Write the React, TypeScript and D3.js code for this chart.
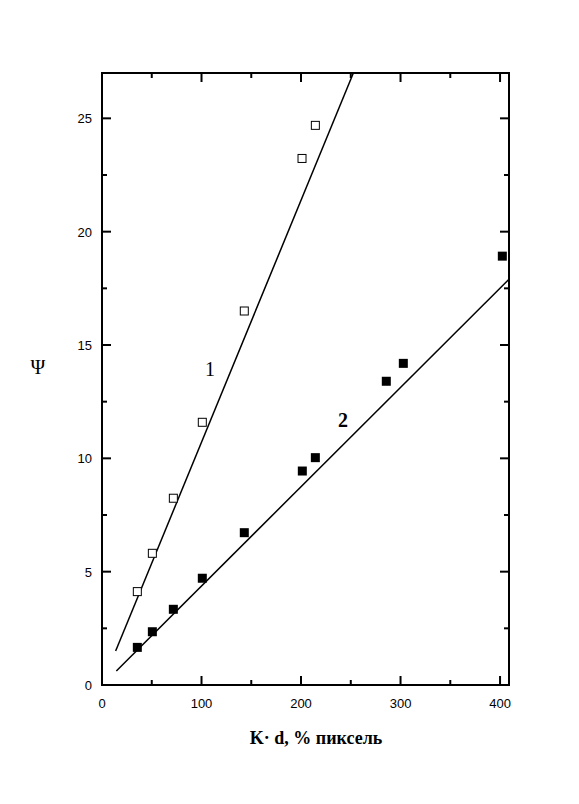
import React from "react";
import * as d3 from "d3";

const series1X = [35.5, 50.6, 71.7, 100.8, 143, 201, 214.4];
const series1Y = [4.12, 5.81, 8.24, 11.59, 16.5, 23.23, 24.69];
const series2X = [35.5, 50.6, 71.7, 100.8, 143, 201.3, 214.4, 285.7, 302.8, 402.3];
const series2Y = [1.66, 2.35, 3.34, 4.71, 6.72, 9.44, 10.03, 13.4, 14.19, 18.92];
const fit1X = [13.7, 252.6];
const fit1Y = [1.5, 27];
const fit2X = [14.4, 409];
const fit2Y = [0.62, 17.9];
const xTicks = [0, 100, 200, 300, 400];
const xMinor = [50, 150, 250, 350];
const yTicks = [0, 5, 10, 15, 20, 25];
const yMinor = [2.5, 7.5, 12.5, 17.5, 22.5];

const W = 579;
const H = 804;
const M = { left: 102, top: 73, right: 70, bottom: 119 };

export default function App() {
  const x = d3.scaleLinear().domain([0, 409]).range([M.left, W - M.right]);
  const y = d3.scaleLinear().domain([0, 27]).range([H - M.bottom, M.top]);
  const line = d3.line<[number, number]>().x((d) => x(d[0])).y((d) => y(d[1]));
  const fit1 = fit1X.map((v, i) => [v, fit1Y[i]] as [number, number]);
  const fit2 = fit2X.map((v, i) => [v, fit2Y[i]] as [number, number]);
  const x0 = M.left, x1 = W - M.right, y0 = H - M.bottom, y1 = M.top;
  const major = 9, minor = 5;
  const sq = 9;
  return (
    <svg width={W} height={H} style={{ position: "absolute", left: 0, top: 0, background: "#fff" }}>
      <rect x={0} y={0} width={W} height={H} fill="#fff" />
      <g stroke="#000" strokeWidth={2}>
        {xTicks.map((t) => (
          <g key={"xt" + t}>
            <line x1={x(t)} x2={x(t)} y1={y0} y2={y0 - major} />
            <line x1={x(t)} x2={x(t)} y1={y1} y2={y1 + major} />
          </g>
        ))}
        {xMinor.map((t) => (
          <g key={"xm" + t}>
            <line x1={x(t)} x2={x(t)} y1={y0} y2={y0 - minor} />
            <line x1={x(t)} x2={x(t)} y1={y1} y2={y1 + minor} />
          </g>
        ))}
        {yTicks.map((t) => (
          <g key={"yt" + t}>
            <line x1={x0} x2={x0 + major} y1={y(t)} y2={y(t)} />
            <line x1={x1} x2={x1 - major} y1={y(t)} y2={y(t)} />
          </g>
        ))}
        {yMinor.map((t) => (
          <g key={"ym" + t}>
            <line x1={x0} x2={x0 + minor} y1={y(t)} y2={y(t)} />
            <line x1={x1} x2={x1 - minor} y1={y(t)} y2={y(t)} />
          </g>
        ))}
        <rect x={x0} y={y1} width={x1 - x0} height={y0 - y1} fill="none" />
      </g>
      <g fontFamily="'Liberation Sans', Arial, sans-serif" fontSize={13} fill="#000">
        {xTicks.map((t) => (
          <text key={"xl" + t} x={x(t)} y={y0 + 23} textAnchor="middle">{t}</text>
        ))}
        {yTicks.map((t) => (
          <text key={"yl" + t} x={x0 - 10} y={y(t) + 5} textAnchor="end">{t}</text>
        ))}
      </g>
      <path d={line(fit1) || ""} fill="none" stroke="#000" strokeWidth={1.5} />
      <path d={line(fit2) || ""} fill="none" stroke="#000" strokeWidth={1.5} />
      {series1X.map((v, i) => (
        <rect key={"s1" + i} x={x(v) - sq / 2 + 0.5} y={y(series1Y[i]) - sq / 2 + 0.5} width={sq - 1} height={sq - 1} fill="#fff" stroke="#000" strokeWidth={1} />
      ))}
      {series2X.map((v, i) => (
        <rect key={"s2" + i} x={x(v) - sq / 2} y={y(series2Y[i]) - sq / 2} width={sq} height={sq} fill="#000" />
      ))}
      <g fontFamily="'Liberation Serif', 'Times New Roman', serif" fill="#000">
        <text x={210} y={376} fontSize={20} textAnchor="middle">1</text>
        <text x={343} y={427} fontSize={20} fontWeight="bold" textAnchor="middle">2</text>
        <text x={38} y={374} fontSize={20} textAnchor="middle">Ψ</text>
        <text x={316} y={744} fontSize={18} fontWeight="bold" textAnchor="middle">K· d, % пиксель</text>
      </g>
    </svg>
  );
}
